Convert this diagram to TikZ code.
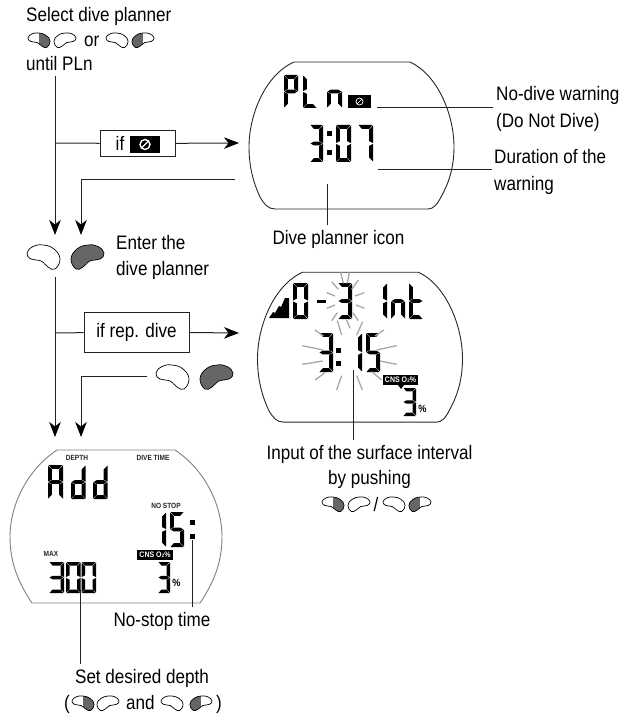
\documentclass[tikz,border=0pt]{standalone}
\usepackage{fontspec}
\setmainfont[FakeStretch=0.875]{Liberation Sans}
\usetikzlibrary{arrows.meta}
\definecolor{beangray}{HTML}{666666}
\definecolor{leader}{HTML}{222222}
\definecolor{raygray}{HTML}{A8A8A8}
\newcommand{\DgSeg}[6]{\begin{scope}[shift={(#1,#2)}]\def\DgW{#3}\def\DgH{#4}\def\DgT{#5}\pgfmathsetmacro\DgM{#4/2}#6\end{scope}}
\newcommand{\SgA}{\fill (0.5,0) -- (\DgW-0.5,0) -- (\DgW-\DgT,\DgT) -- (\DgT,\DgT) -- cycle;}
\newcommand{\SgB}{\fill (\DgW,0.5) -- (\DgW,\DgM-0.4) -- (\DgW-\DgT,\DgM-\DgT/2-0.4) -- (\DgW-\DgT,\DgT+0.5) -- cycle;}
\newcommand{\SgC}{\fill (\DgW,\DgM+0.4) -- (\DgW,\DgH-0.5) -- (\DgW-\DgT,\DgH-\DgT-0.5) -- (\DgW-\DgT,\DgM+\DgT/2+0.4) -- cycle;}
\newcommand{\SgD}{\fill (0.5,\DgH) -- (\DgW-0.5,\DgH) -- (\DgW-\DgT,\DgH-\DgT) -- (\DgT,\DgH-\DgT) -- cycle;}
\newcommand{\SgE}{\fill (0,\DgM+0.4) -- (0,\DgH-0.5) -- (\DgT,\DgH-\DgT-0.5) -- (\DgT,\DgM+\DgT/2+0.4) -- cycle;}
\newcommand{\SgF}{\fill (0,0.5) -- (0,\DgM-0.4) -- (\DgT,\DgM-\DgT/2-0.4) -- (\DgT,\DgT+0.5) -- cycle;}
\newcommand{\SgG}{\fill (0.5,\DgM) -- (\DgT,\DgM-\DgT/2) -- (\DgW-\DgT,\DgM-\DgT/2) -- (\DgW-0.5,\DgM) -- (\DgW-\DgT,\DgM+\DgT/2) -- (\DgT,\DgM+\DgT/2) -- cycle;}
\newcommand{\GlZero}{\SgA\SgB\SgC\SgD\SgE\SgF}
\newcommand{\GlOne}{\SgB\SgC}
\newcommand{\GlThree}{\SgA\SgB\SgC\SgD\SgG}
\newcommand{\GlFive}{\SgA\SgC\SgD\SgF\SgG}
\newcommand{\GlSeven}{\SgA\SgB\SgC}
\newcommand{\GlD}{\SgB\SgC\SgD\SgE\SgG}
\newcommand{\GlBigA}{\SgA\SgB\SgC\SgE\SgF\SgG}
\newcommand{\GlP}{\SgA\SgB\SgE\SgF\SgG}
\newcommand{\GlL}{\SgD\SgE\SgF}
\newcommand{\GlN}{\SgC\SgE\SgG}
\newcommand{\GlT}{\SgD\SgE\SgF\SgG}
\newcommand{\BeanPath}{plot[smooth cycle,tension=0.75] coordinates {(0,8) (6,1.5) (16,0) (27,4) (33,14) (28,24) (21,22) (14,16) (4,14)}}
% x, y, xscale (negative = mirrored; x is then the right edge), yscale, mode 0 white 1 gray 2 half
\newcommand{\BeanDraw}[5]{\begin{scope}[shift={(#1,#2)},xscale=#3,yscale=#4]
\ifcase#5\draw[line width=0.7pt,fill=white] \BeanPath;
\or\draw[line width=0.7pt,fill=beangray] \BeanPath;
\or\begin{scope}\clip \BeanPath;\fill[beangray] (16,-2) rectangle (36,27);\end{scope}\draw[line width=0.7pt] \BeanPath;
\fi\end{scope}}
\newcommand{\DisplayOutline}{(294,62) -- (410,62) .. controls (438,75) and (454,115) .. (454,147) .. controls (454,172) and (446,188) .. (441,197) .. controls (437,205) and (433,209) .. (428,209) -- (275,209) .. controls (268,209) and (264,204) .. (260,197) .. controls (255,186) and (249,170) .. (249,147) .. controls (249,115) and (265,75) .. (294,62) -- cycle}
\tikzset{
 lbl/.style={inner sep=0pt,anchor=base west,font=\fontsize{19.5}{22}\selectfont},
 lblc/.style={inner sep=0pt,anchor=base,font=\fontsize{19.5}{22}\selectfont},
 flowline/.style={line width=1pt,draw=leader},
 flowarrow/.style={flowline,-{Stealth[length=15pt,width=11.5pt,inset=4.5pt,color=black]}},
 leaderline/.style={line width=1pt,draw=leader},
 ifbox/.style={draw=leader,line width=0.9pt,fill=white,inner sep=0pt,font=\fontsize{19.5}{22}\selectfont},
 watch/.style={line width=0.9pt,draw=black!85},
 ray/.style={line width=1.3pt,draw=raygray},
 cnstag/.style={fill=black,text=white,inner sep=0pt,font=\bfseries\fontsize{8}{8}\selectfont},
 tiny/.style={inner sep=0pt,font=\bfseries\fontsize{7.5}{8}\selectfont,text=black!85},
 pct/.style={inner sep=0pt,font=\bfseries\fontsize{10.5}{10}\selectfont},
}
\begin{document}
\begin{tikzpicture}[x=1pt,y=-1pt]
\useasboundingbox (0,0) rectangle (619,714);
\fill[white] (0,0) rectangle (619,714);
% ---- intro text
\node[lbl] (t1) at (26,22) {Select dive planner};
\BeanDraw{28}{33}{0.67}{0.6}{2}
\BeanDraw{76}{33}{-0.67}{0.6}{0}
\node[lbl] (t1or) at (84,47) {or};
\BeanDraw{106}{33}{0.67}{0.6}{0}
\BeanDraw{154}{33}{-0.67}{0.6}{2}
\node[lbl] (t1b) at (26,71) {until PLn};
% ---- flow 1
\coordinate (a0) at (55,76);
\coordinate (a1) at (55,143);
\coordinate (a2) at (55,235);
\coordinate (a3) at (239,143);
\coordinate (b0) at (235,180);
\coordinate (b1) at (81,180);
\coordinate (b2) at (81,235);
\node[ifbox,minimum width=75pt,minimum height=26pt] (ifA) at (137.5,143.5) {};
\node[inner sep=0pt,font=\fontsize{19.5}{22}\selectfont,anchor=base] (ifAt) at (120,151) {if};
\node[fill=black,minimum width=30pt,minimum height=17pt,inner sep=0pt] (ifAi) at (145,144.5) {};
\draw[white,line width=1.4pt] (ifAi.center) circle (5pt);
\draw[white,line width=1.4pt] ([shift={(-3.5,3.5)}]ifAi.center) -- ([shift={(3.5,-3.5)}]ifAi.center);
\draw[flowarrow] (a0) -- (a2);
\draw[flowline] (a1) -- (ifA);
\draw[flowarrow] (ifA) -- (a3);
\draw[flowarrow] (b0) -- (b1) -- (b2);
% ---- display 1
\draw[watch] \DisplayOutline;
\DgSeg{284}{75}{14}{33}{3.8}{\GlP}
\DgSeg{303}{75}{14}{33}{3.8}{\GlL}
\DgSeg{327}{75}{15}{33}{3.8}{\GlN}
\node[fill=black,minimum width=23pt,minimum height=13pt,inner sep=0pt] (warn1) at (359.5,101.5) {};
\draw[white,line width=0.7pt] (warn1.center) circle (3.5pt);
\draw[white,line width=0.7pt] ([shift={(-2.5,2.5)}]warn1.center) -- ([shift={(2.5,-2.5)}]warn1.center);
\DgSeg{310}{125}{13}{37}{3.8}{\GlThree}
\fill (327,131) rectangle (332,136);
\fill (327,150) rectangle (332,155);
\DgSeg{336}{125}{15}{37}{3.8}{\GlZero}
\DgSeg{358}{125}{15}{37}{3.8}{\GlSeven}
\coordinate (n1) at (377,108); \coordinate (n2) at (493,108);
\coordinate (d1) at (378,170); \coordinate (d2) at (492,170);
\coordinate (i1) at (327,184); \coordinate (i2) at (327,225);
\draw[leaderline] (n1) -- (n2);
\draw[leaderline] (d1) -- (d2);
\draw[leaderline] (i1) -- (i2);
\node[lbl] (l1) at (496,101) {No-dive warning};
\node[lbl] (l2) at (496,128) {(Do Not Dive)};
\node[lbl] (l3) at (494,164) {Duration of the};
\node[lbl] (l4) at (494,190) {warning};
\node[lblc] (l5) at (338.5,244) {Dive planner icon};
% ---- enter
\BeanDraw{27}{245}{1}{1}{0}
\BeanDraw{104}{245}{-1}{1}{1}
\node[lbl] (t2) at (116,249) {Enter the};
\node[lbl] (t3) at (116,275) {dive planner};
\coordinate (c0) at (55,277);
\coordinate (c1) at (55,333);
\coordinate (c2) at (55,437);
\coordinate (c3) at (239,333);
\coordinate (e0) at (147,376);
\coordinate (e1) at (81,376);
\coordinate (e2) at (81,437);
\node[ifbox,minimum width=105pt,minimum height=40pt] (ifB) at (136.5,332) {if rep. dive};
\draw[flowarrow] (c0) -- (c2);
\draw[flowline] (c1) -- (ifB);
\draw[flowarrow] (ifB) -- (c3);
\draw[flowarrow] (e0) -- (e1) -- (e2);
\BeanDraw{156}{365}{1}{1}{0}
\BeanDraw{233}{365}{-1}{1}{1}
% ---- display 2
\begin{scope}[shift={(8.5,209)}]
\draw[watch,yscale=1.02] \DisplayOutline;
\end{scope}
\fill (269,318) -- (273,312) -- (275,313) -- (279,306) -- (281,307) -- (285,298) -- (289,298) -- (289,318) -- cycle;
\DgSeg{293}{283}{15}{36}{3.8}{\GlZero}
\fill (317,299.5) rectangle (326,303);
\DgSeg{338}{283}{14}{36}{3.8}{\GlThree}
\DgSeg{373}{283}{14}{36}{3.8}{\GlOne}
\DgSeg{391}{283}{14}{36}{3.8}{\GlN}
\DgSeg{409}{283}{14}{36}{3.8}{\GlT}
\DgSeg{319}{333}{14}{39}{3.8}{\GlThree}
\fill (336,348) rectangle (341,353);
\fill (336,361) rectangle (341,366);
\DgSeg{348}{333}{14}{39}{3.8}{\GlOne}
\DgSeg{366}{333}{14}{39}{3.8}{\GlFive}
\foreach \xa/\ya/\xb/\yb in {
 332/127/340/160, 358/127/352/160, 305/155/325/178, 385/150/365/178,
 290/188/315/198, 403/188/375/198, 290/235/315/225, 403/235/378/225,
 305/272/322/248, 385/272/368/248, 335/315/322/272, 360/295/350/270,
 255/300/280/318, 217/347/280/360, 217/403/278/393, 255/450/285/428,
 335/437/320/480, 380/437/397/480, 398/275/380/315, 462/300/435/318,
 500/347/440/360, 500/403/450/393, 455/450/425/425}
 {\draw[ray] ({230+\xa/3},{230+\ya/3}) -- ({230+\xb/3},{230+\yb/3});}
\node[cnstag,minimum width=35pt,minimum height=10pt] (cns2) at (400.5,380) {CNS O\kern0.2pt{\fontsize{5}{5}\selectfont 2}\%};
\fill (398,385) -- (404,385) -- (401,389) -- cycle;
\DgSeg{403}{388}{13}{28}{3.3}{\GlThree}
\node[pct] (pct2) at (422.5,409) {\%};
\coordinate (p1) at (353,370); \coordinate (p2) at (353,440);
\draw[leaderline,line width=0.8pt] (p1) -- (p2);
\node[lblc] (t4) at (369.5,459) {Input of the surface interval};
\node[lblc] (t5) at (369.5,484) {by pushing};
\BeanDraw{322}{497}{0.67}{0.6}{2}
\BeanDraw{370}{497}{-0.67}{0.6}{0}
\node[lblc] (t5s) at (376,511) {/};
\BeanDraw{383}{497}{0.67}{0.6}{0}
\BeanDraw{431}{497}{-0.67}{0.6}{2}
% ---- display 3
\draw[watch,draw=black!50] (57,450) -- (175,450) .. controls (205,470) and (222,505) .. (222,537) .. controls (222,565) and (212,585) .. (200,603) -- (32,603) .. controls (20,585) and (10,565) .. (10,537) .. controls (10,505) and (27,470) .. (57,450) -- cycle;
\node[tiny] (depth) at (77,458) {DEPTH};
\node[tiny] (dtime) at (153,458) {DIVE TIME};
\DgSeg{48}{465}{15}{34}{3.8}{\GlBigA}
\DgSeg{71}{465}{14.5}{34}{3.8}{\GlD}
\DgSeg{93}{465}{14.5}{34}{3.8}{\GlD}
\node[tiny] (nostop) at (166,506) {NO STOP};
\DgSeg{159}{512}{7}{35}{3.8}{\GlOne}
\DgSeg{170}{512}{14}{35}{3.8}{\GlFive}
\fill (189.5,519.5) rectangle (194.5,524.5);
\fill (189.5,533.5) rectangle (194.5,538.5);
\node[tiny] (maxl) at (51,554) {MAX};
\DgSeg{49}{562}{15}{31}{3.5}{\GlThree}
\DgSeg{66}{562}{14.5}{31}{3.5}{\GlZero}
\DgSeg{81.5}{562}{14.5}{31}{3.5}{\GlZero}
\node[cnstag,minimum width=36pt,minimum height=10pt,text=white] (cns3) at (155,554.5) {CNS O\kern0.2pt{\fontsize{5}{5}\selectfont 2}\%};
\DgSeg{158}{562}{12}{31}{3.5}{\GlThree}
\node[pct] (pct3) at (176.5,583) {\%};
\coordinate (s1) at (192,540); \coordinate (s2) at (192,607);
\coordinate (m1) at (80,590); \coordinate (m2) at (80,664);
\draw[leaderline] (s1) -- (s2);
\draw[leaderline] (m1) -- (m2);
\node[lblc] (t6) at (162,626) {No-stop time};
\node[lblc] (t7) at (142,683) {Set desired depth};
\node[lbl] (t8a) at (64,709) {(};
\BeanDraw{72}{696}{0.67}{0.6}{2}
\BeanDraw{119}{696}{-0.67}{0.6}{0}
\node[lbl] (t8b) at (126,709) {and};
\BeanDraw{161}{696}{0.67}{0.6}{0}
\BeanDraw{212}{696}{-0.67}{0.6}{2}
\node[lbl] (t8c) at (216,709) {)};
\end{tikzpicture}
\end{document}
